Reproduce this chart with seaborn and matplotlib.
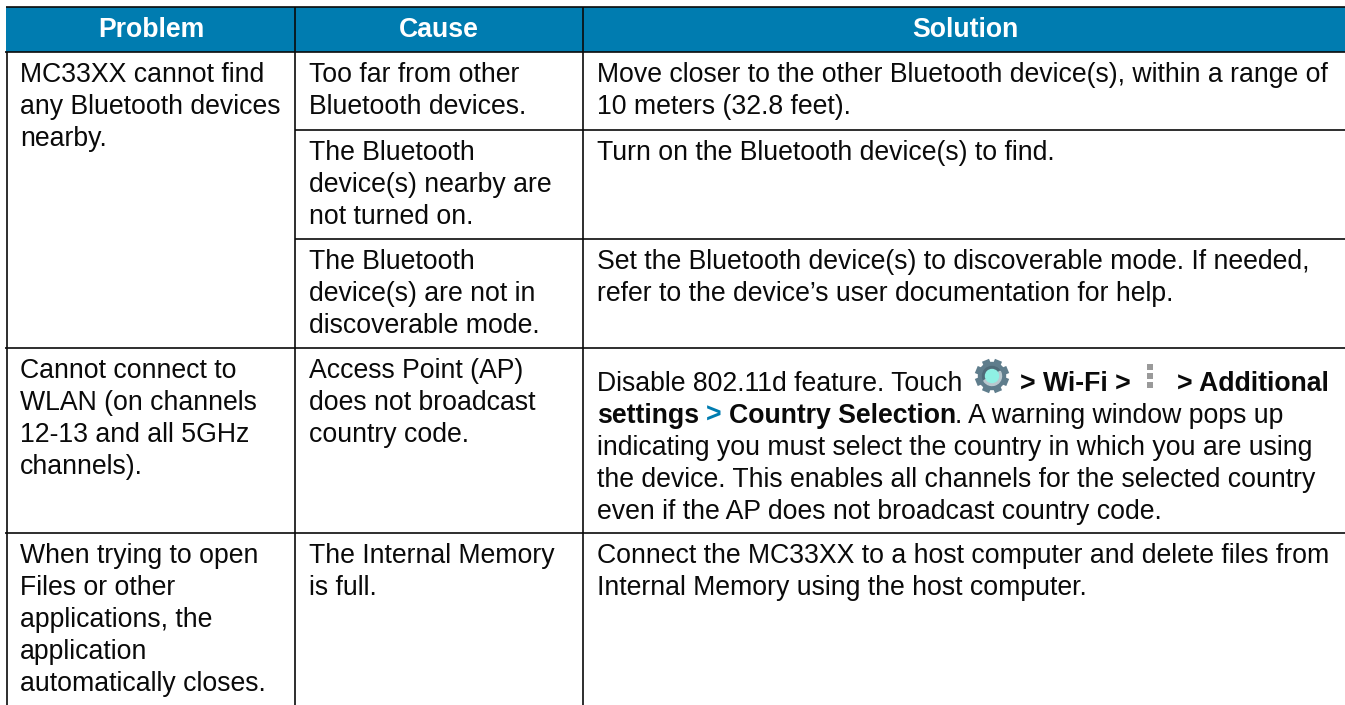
# troubleshooting table, drawn on a pixel sized axes
import numpy as np
import matplotlib.pyplot as plt
from matplotlib.colors import ListedColormap
from matplotlib.patches import Circle, Wedge
import seaborn as sns

# Table content
headers = ['Problem', 'Cause', 'Solution']
problem_cells = [
    ['MC33XX cannot find', 'any Bluetooth devices', 'nearby.'],
    ['Cannot connect to', 'WLAN (on channels', '12-13 and all 5GHz', 'channels).'],
    ['When trying to open', 'Files or other', 'applications, the', 'application', 'automatically closes.'],
]
cause_cells = [
    ['Too far from other', 'Bluetooth devices.'],
    ['The Bluetooth', 'device(s) nearby are', 'not turned on.'],
    ['The Bluetooth', 'device(s) are not in', 'discoverable mode.'],
    ['Access Point (AP)', 'does not broadcast', 'country code.'],
    ['The Internal Memory', 'is full.'],
]
solution_cells = [
    ['Move closer to the other Bluetooth device(s), within a range of', '10 meters (32.8 feet).'],
    ['Turn on the Bluetooth device(s) to find.'],
    ['Set the Bluetooth device(s) to discoverable mode. If needed,',
     'refer to the device\u2019s user documentation for help.'],
    None,
    ['Connect the MC33XX to a host computer and delete files from',
     'Internal Memory using the host computer.'],
]
solution_rest = ['indicating you must select the country in which you are using',
                 'the device. This enables all channels for the selected country',
                 'even if the AP does not broadcast country code.']

W, H = 1345, 705
BLUE = '#007cb0'
INK = '#0a0a0a'
FS = 19.15
LH = 32
LW = 1.2

sns.set_theme(style='white')
plt.rcParams['font.family'] = ['Liberation Sans', 'DejaVu Sans']

fig = plt.figure(figsize=(W / 100, H / 100), dpi=100)
ax = fig.add_axes([0, 0, 1, 1])
ax.set_xlim(0, W)
ax.set_ylim(H, 0)
ax.axis('off')

# header band
hax = fig.add_axes([6 / W, 1 - 52 / H, (W - 6) / W, 45 / H])
sns.heatmap(np.zeros((1, 1)), cmap=ListedColormap([BLUE]), cbar=False,
            xticklabels=False, yticklabels=False, ax=hax)
hax.set_zorder(0)
ax.set_zorder(1)
ax.patch.set_alpha(0)

col_x = [6.5, 294.5, 582.5]
col_text = [20, 309, 597]
row_top = [52, 130, 239, 348, 533]

for h, cx in zip(headers, [151, 439, 965]):
    ax.text(cx, 30, h, color='white', fontsize=FS, fontweight='bold', ha='center', va='center')

# rules
ax.hlines(7, 6, W, color=INK, lw=LW)
ax.hlines(52, 5, W, color=INK, lw=LW)
ax.hlines([130, 239], col_x[1], W, color=INK, lw=LW)
ax.hlines([348, 533], 5, W, color=INK, lw=LW)
ax.vlines(col_x[0], 52, H, color=INK, lw=LW)
ax.vlines(col_x[1:], 7, H, color=INK, lw=LW)


def put_lines(x, y0, lines):
    for i, line in enumerate(lines):
        ax.text(x, y0 + i * LH, line, color=INK, fontsize=FS, va='baseline')


for top, lines in zip([row_top[0], row_top[3], row_top[4]], problem_cells):
    put_lines(col_text[0], top + 30, lines)
for top, lines in zip(row_top, cause_cells):
    put_lines(col_text[1], top + 30, lines)
for top, lines in zip(row_top, solution_cells):
    if lines is not None:
        put_lines(col_text[2], top + 30, lines)

# mixed weight lines of the 802.11d cell
line1 = [(597, 'Disable 802.11d feature. Touch', 'normal', INK),
         (1020, '> Wi-Fi >', 'bold', INK),
         (1177, '> Additional', 'bold', INK)]
line2 = [(597, 'settings', 'bold', INK),
         (706, '>', 'bold', BLUE),
         (729, 'Country Selection', 'bold', INK),
         (955, '. A warning window pops up', 'normal', INK)]
for x, s, weight, c in line1:
    ax.text(x, 391, s, color=c, fontsize=FS, fontweight=weight, va='baseline')
for x, s, weight, c in line2:
    ax.text(x, 423, s, color=c, fontsize=FS, fontweight=weight, va='baseline')
put_lines(597, 455, solution_rest)

# gear icon
gx, gy = 992, 376
for a in np.arange(0, 180, 45) + 22.5:
    dx, dy = 17 * np.cos(np.radians(a)), 17 * np.sin(np.radians(a))
    ax.plot([gx - dx, gx + dx], [gy - dy, gy + dy], color='#5f7d8c', lw=5.5, solid_capstyle='butt', zorder=3)
ax.add_patch(Circle((gx, gy), 13.5, color='#5f7d8c', zorder=4))
ax.add_patch(Circle((gx, gy), 9.5, color='#4f6b79', zorder=5))
ax.add_patch(Wedge((gx, gy), 9.5, 330, 150, color='#b9c8cf', zorder=5))
ax.add_patch(Circle((gx, gy), 6.5, color='#8ff0e4', zorder=6))

# overflow menu icon
for y in [367, 376, 385]:
    ax.plot([1150], [y], marker='s', ms=5, color='#9a9a9a', mew=0, zorder=3)

fig.savefig('out.png', dpi=100)
